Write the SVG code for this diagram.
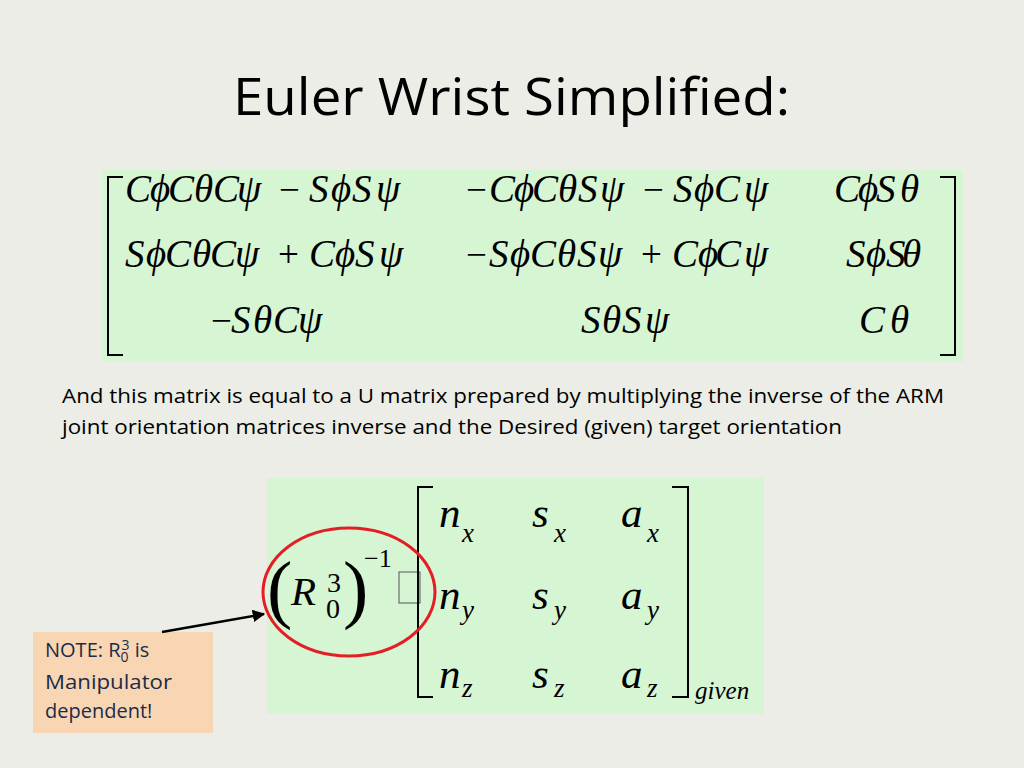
<svg xmlns="http://www.w3.org/2000/svg" width="1024" height="768" viewBox="0 0 1024 768">
<defs>
<style>
.bg{fill:#EBEDE6}
.green{fill:#D6F5D3}
.m{font-family:"Liberation Serif","Times New Roman",serif;font-style:italic;fill:#000;font-size:39px}
.op{font-family:"Liberation Serif","Times New Roman",serif;fill:#000;font-size:37px}
.b{fill:none;stroke:#000;stroke-width:2}
.body{font-family:"Open Sans","Noto Sans","Liberation Sans",sans-serif;font-size:19.5px;fill:#000}
.big{font-family:"Liberation Serif","Times New Roman",serif;font-style:italic;font-size:43px;fill:#000}
.sub{font-family:"Liberation Serif","Times New Roman",serif;font-style:italic;font-size:27px;fill:#000}
.rm{font-family:"Liberation Serif","Times New Roman",serif;fill:#000}
.note{font-family:"Open Sans","Noto Sans","Liberation Sans",sans-serif;font-size:20px;fill:#1C2B48}
</style>
<marker id="ah" viewBox="0 0 10 10" refX="9" refY="5" markerWidth="5" markerHeight="5" orient="auto">
<path d="M0,0 L10,5 L0,10 z" fill="#000"/>
</marker>
</defs>
<rect class="bg" x="0" y="0" width="1024" height="768"/>
<g id="title">
<text x="233" y="115" font-family="Open Sans,Noto Sans,Liberation Sans,sans-serif" font-size="52" textLength="557" lengthAdjust="spacingAndGlyphs" fill="#000">Euler Wrist Simplified:</text>
</g>
<g id="matrix1">
<rect class="green" x="102" y="170" width="861" height="192"/>
<path class="b" d="M123,177 H108 V355 H123"/>
<path class="b" d="M940,177 H955 V355 H940"/>
<!-- row 1 -->
<text class="m" x="125 150 168 194 213 237" y="202">CϕCθCψ</text>
<text class="op" x="279" y="202">−</text>
<text class="m" x="309 331 352 376" y="202">SϕSψ</text>
<text class="op" x="466" y="202">−</text>
<text class="m" x="489 514 532 558 578 600" y="202">CϕCθSψ</text>
<text class="op" x="643" y="202">−</text>
<text class="m" x="673 694 714 744" y="202">SϕCψ</text>
<text class="m" x="834 858 876 900" y="202">CϕSθ</text>
<!-- row 2 -->
<text class="m" x="125 146 165 192 210 235" y="267">SϕCθCψ</text>
<text class="op" x="278" y="267">+</text>
<text class="m" x="309 335 355 379" y="267">CϕSψ</text>
<text class="op" x="466" y="267">−</text>
<text class="m" x="489 510 530 557 577 598" y="267">SϕCθSψ</text>
<text class="op" x="641" y="267">+</text>
<text class="m" x="672 698 715 744" y="267">CϕCψ</text>
<text class="m" x="846 866 886 902" y="267">SϕSθ</text>
<!-- row 3 -->
<text class="op" x="211" y="333">−</text>
<text class="m" x="231 253 273 298" y="333">SθCψ</text>
<text class="m" x="581 602 622 645" y="333">SθSψ</text>
<text class="m" x="859 890" y="333">Cθ</text>
</g>
<g id="paragraph">
<text class="body" x="62" y="403" textLength="882" lengthAdjust="spacingAndGlyphs">And this matrix is equal to a U matrix prepared by multiplying the inverse of the ARM</text>
<text class="body" x="62" y="434" textLength="780" lengthAdjust="spacingAndGlyphs">joint orientation matrices inverse and the Desired (given) target orientation</text>
</g>
<g id="matrix2">
<rect class="green" x="267" y="478" width="497" height="236"/>
<text class="rm"><tspan x="267" y="614" font-size="76">(</tspan><tspan x="291" y="605" font-size="41" font-style="italic">R</tspan><tspan x="327" y="592" font-size="28">3</tspan><tspan x="326" y="618" font-size="28">0</tspan><tspan x="343" y="614" font-size="76">)</tspan><tspan x="364" y="567" font-size="26">−1</tspan></text>
<rect x="399" y="572" width="21" height="31" fill="none" stroke="#555" stroke-width="1"/>
<path class="b" d="M433,487 H418 V697 H433"/>
<path class="b" d="M672,487 H688 V697 H672"/>
<text class="big" x="439" y="527">n</text><text class="sub" x="462" y="542">x</text>
<text class="big" x="532" y="527">s</text><text class="sub" x="554" y="542">x</text>
<text class="big" x="621" y="527">a</text><text class="sub" x="647" y="542">x</text>
<text class="big" x="439" y="609">n</text><text class="sub" x="462" y="619">y</text>
<text class="big" x="532" y="609">s</text><text class="sub" x="554" y="619">y</text>
<text class="big" x="621" y="609">a</text><text class="sub" x="647" y="619">y</text>
<text class="big" x="439" y="688">n</text><text class="sub" x="462" y="697">z</text>
<text class="big" x="532" y="688">s</text><text class="sub" x="554" y="697">z</text>
<text class="big" x="621" y="688">a</text><text class="sub" x="647" y="697">z</text>
<text x="695" y="699" font-family="Liberation Serif,serif" font-style="italic" font-size="25">given</text>
</g>
<g id="highlight">
<ellipse cx="349" cy="592" rx="86" ry="64" fill="none" stroke="#E31E24" stroke-width="3"/>
</g>
<g id="note">
<rect x="33" y="632" width="180" height="101" fill="#F8D6B3"/>
<text class="note"><tspan x="45" y="657">NOTE: R</tspan><tspan font-size="14" y="662">0</tspan><tspan font-size="14" dx="-7" y="650">3</tspan><tspan y="657"> is</tspan></text>
<text class="note" x="45" y="689" textLength="127" lengthAdjust="spacingAndGlyphs">Manipulator</text>
<text class="note" x="45" y="718">dependent!</text>
</g>
<g id="connectors">
<line x1="162" y1="632" x2="264" y2="614" stroke="#000" stroke-width="2.5" marker-end="url(#ah)"/>
</g>
</svg>
